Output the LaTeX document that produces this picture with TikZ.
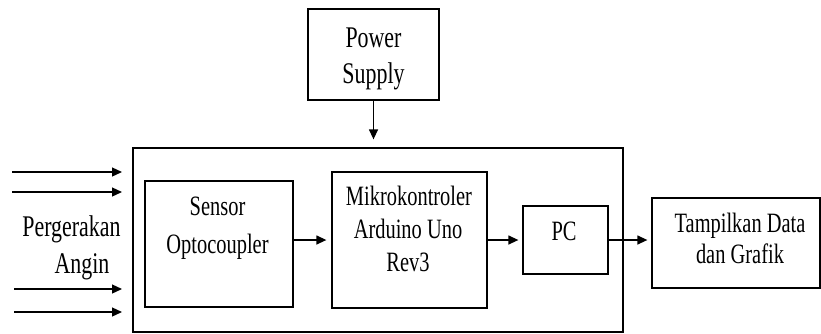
\documentclass[tikz,border=0pt]{standalone}
\usepackage{fontspec}
\setmainfont{Liberation Serif}[FakeStretch=0.73]
\usetikzlibrary{arrows.meta}
\tikzset{
  box/.style={draw=black, line width=1.3pt, rectangle, inner sep=0pt},
  lbl/.style={anchor=base, inner sep=0pt, font=\fontsize{28}{33}\selectfont},
  lblbig/.style={anchor=base, inner sep=0pt, font=\fontsize{30}{37}\selectfont},
  arr/.style={line width=1.3pt, -{Triangle[length=10pt,width=9pt]}}
}
\begin{document}
\begin{tikzpicture}[x=1pt,y=-1pt]
\useasboundingbox (0,0) rectangle (821,333);
% boxes
\node[box, minimum width=490, minimum height=184] (outer) at (378,240) {};
\node[box, minimum width=131, minimum height=91] (power) at (373.5,54.5) {};
\node[box, minimum width=148, minimum height=126] (sensor) at (219,244) {};
\node[box, minimum width=155, minimum height=136] (mikro) at (409.5,240) {};
\node[box, minimum width=85, minimum height=68] (pc) at (565.5,240) {};
\node[box, minimum width=168, minimum height=90] (tamp) at (736,243) {};
% texts
\node[lblbig] (t1a) at (71.5,236) {Pergerakan};
\node[lblbig] (t1b) at (82,273) {Angin};
\node[lblbig] (t2a) at (373.5,47) {Power};
\node[lblbig] (t2b) at (373.5,83) {Supply};
\node[lbl] (t3a) at (217.5,215) {Sensor};
\node[lbl] (t3b) at (217.5,253) {Optocoupler};
\node[lbl] (t4a) at (409,205) {Mikrokontroler};
\node[lbl] (t4b) at (408,238) {Arduino Uno};
\node[lbl] (t4c) at (408,271.5) {Rev3};
\node[lbl] (t5) at (564,240) {PC};
\node[lbl] (t6a) at (740,232) {Tampilkan Data};
\node[lbl] (t6b) at (740,263) {dan Grafik};
% wind arrows
\coordinate (w1s) at (12,172); \coordinate (w1e) at (122,172);
\coordinate (w2s) at (12,192); \coordinate (w2e) at (122,192);
\coordinate (w3s) at (14,289); \coordinate (w3e) at (122,289);
\coordinate (w4s) at (14,312); \coordinate (w4e) at (122,312);
\draw[arr] (w1s) -- (w1e);
\draw[arr] (w2s) -- (w2e);
\draw[arr] (w3s) -- (w3e);
\draw[arr] (w4s) -- (w4e);
% connectors
\draw[arr, shorten >=8pt] (power.south) -- (power.south |- outer.north);
\draw[arr, shorten >=5pt] (sensor.east |- pc.center) -- (mikro.west |- pc.center);
\draw[arr, shorten >=4pt] (mikro.east |- pc.center) -- (pc.west);
\draw[arr, shorten >=4pt] (pc.east) -- (tamp.west |- pc.center);
\end{tikzpicture}
\end{document}
